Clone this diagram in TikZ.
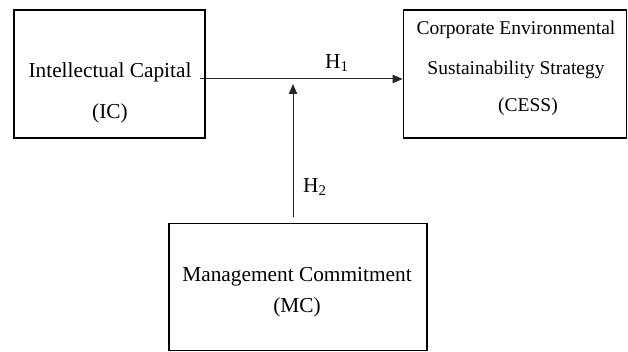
\documentclass[tikz,border=0pt]{standalone}
\usepackage{fontspec}
\setmainfont{Liberation Serif}
\usetikzlibrary{arrows.meta}
\usetikzlibrary{positioning}

\begin{document}
\begin{tikzpicture}[x=0.6pt,y=-0.6pt,
		box/.style={draw, line width=0.8pt, inner sep=0pt},
		txt/.style={inner sep=0pt, font=\fontsize{12.8}{14}\selectfont},
		small/.style={txt, font=\fontsize{11.7}{13}\selectfont},
		link/.style={line width=0.6pt, draw=black!85, -{Triangle[length=6pt,width=5pt]}}]
	\useasboundingbox (0,0) rectangle (628,352);

	% boxes
	\node[box, minimum width=114.6pt, minimum height=76.8pt] (ic) at (109.5,74) {};
	\node[box, minimum width=134pt, minimum height=76.8pt] (cess) at (515,74) {};
	\node[box, minimum width=154.8pt, minimum height=76.2pt] (mc) at (298,287) {};

	% texts
	\node[txt] (icname) at (110,72) {Intellectual Capital};
	\node[txt] (icabbr) at (110,113) {(IC)};
	\node[small] (cessa) at (516,30) {Corporate Environmental};
	\node[small] (cessb) at (516,70) {Sustainability Strategy};
	\node[small] (cessc) at (528,107) {(CESS)};
	\node[txt] (mcname) at (297,277) {Management Commitment};
	\node[txt] (mcabbr) at (297,307) {(MC)};
	\node[txt] (hone) at (337,63) {H\textsubscript{1}};
	\node[txt] (htwo) at (315,187) {H\textsubscript{2}};

	% paths
	\coordinate (s1) at (200,79);
	\coordinate (s2) at (293,217);
	\coordinate (t2) at (293,84);
	\draw[link] (s1) -- (s1 -| cess.west);
	\draw[link] (s2) -- (t2);

\end{tikzpicture}
\end{document}
